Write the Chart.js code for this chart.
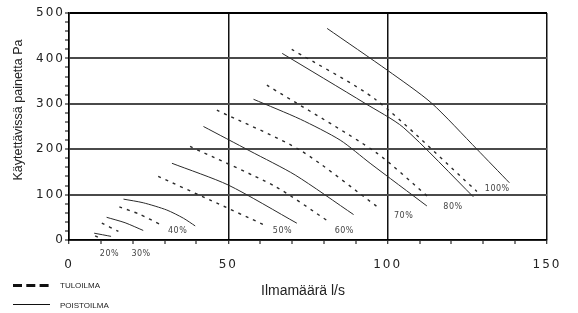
<!DOCTYPE html>
<html>
<head>
<meta charset="utf-8">
<script src="https://cdn.jsdelivr.net/npm/chart.js@4.4.1/dist/chart.umd.min.js"></script>
<style>
  body { margin: 0; background: #fff; }
  canvas { display: block; }
</style>
</head>
<body>
<canvas id="c" width="578" height="313"></canvas>
<script>
// damper positions
const percentLabels = ['20%', '30%', '40%', '50%', '60%', '70%', '80%', '100%']

// poistoilma (solid), flow l/s and pressure Pa
const poistoFlow = [
  [7.9, 13.2],
  [11.8, 17.6, 23.3],
  [17.1, 23.3, 30.7, 35.9, 39.6],
  [32.3, 50.0, 71.5],
  [42.2, 56.8, 71.0, 89.3],
  [57.9, 72.6, 85.1, 94.5, 112.3],
  [66.9, 92.9, 104.9, 126.9],
  [81.0, 100.1, 113.7, 128.0, 138.2]
]
const poistoPa = [
  [15, 8],
  [50, 38, 21],
  [90, 82, 66, 48, 31],
  [169, 121, 37],
  [250, 196, 143, 56],
  [310, 266, 220, 169, 75],
  [411, 301, 248, 95],
  [466, 373, 302, 200, 126]
]

// tuloilma (dashed)
const tuloFlow = [
  [8.2, 10.1],
  [10.3, 15.5],
  [15.8, 22.0, 29.0],
  [28.0, 44.3, 61.0],
  [38.0, 64.7, 81.4],
  [46.4, 72.5, 96.6],
  [62.1, 96.1, 112.7],
  [69.9, 96.1, 128.0]
]
const tuloPa = [
  [9, 3],
  [37, 19],
  [73, 57, 33],
  [140, 88, 34],
  [206, 118, 41],
  [286, 198, 74],
  [341, 194, 95],
  [420, 310, 107]
]

// where the % texts sit (in axis units)
const labelFlow = [12.7, 22.6, 34.1, 67.0, 86.4, 105.0, 120.5, 134.4]
const labelPa = [-30, -30, 19, 19, 20, 53, 73, 113]

const toPoints = (xs, ys) => xs.map((x, i) => ({x: x, y: ys[i]}))

const datasets = []
percentLabels.forEach((p, i) => {
  datasets.push({
    label: 'POISTOILMA ' + p,
    data: toPoints(poistoFlow[i], poistoPa[i]),
    borderColor: '#2a2a2a',
    borderWidth: 1,
    pointRadius: 0,
    tension: 0.25,
  })
  datasets.push({
    label: 'TULOILMA ' + p,
    data: toPoints(tuloFlow[i], tuloPa[i]),
    borderColor: '#2a2a2a',
    borderWidth: 1.4,
    borderDash: [3, 5],
    pointRadius: 0,
    tension: 0.25,
  })
})

//wide spaced tick numbers, only while the scales are drawn
const spacing = {
  id: 'spacing',
  beforeDraw: (chart) => { chart.ctx.letterSpacing = '2px' },
  beforeDatasetsDraw: (chart) => { chart.ctx.letterSpacing = '0px' },
}

//percent texts, axis titles and the little legend
const extras = {
  id: 'extras',
  afterDraw: (chart) => {
    const ctx = chart.ctx
    const xs = chart.scales.x
    const ys = chart.scales.y
    ctx.save()
    ctx.letterSpacing = '0.5px'
    ctx.fillStyle = '#444'
    ctx.font = '8px "DejaVu Sans"'
    ctx.textAlign = 'center'
    ctx.textBaseline = 'middle'
    percentLabels.forEach((p, i) => {
      ctx.fillText(p, xs.getPixelForValue(labelFlow[i]), ys.getPixelForValue(labelPa[i]))
    })
    ctx.letterSpacing = '0px'

    ctx.fillStyle = '#222'
    ctx.font = '14px "Liberation Sans"'
    ctx.fillText('Ilmamäärä l/s', 303, 291)

    ctx.save()
    ctx.translate(19, 110)
    ctx.rotate(-Math.PI / 2)
    ctx.font = '12.5px "Liberation Sans"'
    ctx.fillText('Käytettävissä painetta Pa', 0, 0)
    ctx.restore()

    ctx.strokeStyle = '#111'
    ctx.lineWidth = 3
    ctx.setLineDash([9, 4.3])
    ctx.beginPath()
    ctx.moveTo(13, 285.5)
    ctx.lineTo(49, 285.5)
    ctx.stroke()
    ctx.setLineDash([])
    ctx.lineWidth = 1
    ctx.beginPath()
    ctx.moveTo(13, 304.5)
    ctx.lineTo(50, 304.5)
    ctx.stroke()

    ctx.textAlign = 'left'
    ctx.font = '8px "Liberation Sans"'
    ctx.fillText('TULOILMA', 60, 285.5)
    ctx.fillText('POISTOILMA', 60, 305.5)
    ctx.restore()
  }
}

new Chart(document.getElementById('c'), {
  type: 'line',
  data: { datasets: datasets },
  plugins: [spacing, extras],
  options: {
    responsive: false,
    animation: false,
    devicePixelRatio: 1,
    layout: { padding: { top: 13, right: 31, bottom: 0, left: 0 } },
    plugins: {
      legend: { display: false },
      tooltip: { enabled: false },
    },
    scales: {
      x: {
        type: 'linear',
        min: 0,
        max: 150,
        afterFit: (scale) => { scale.height = 73 },
        ticks: {
          stepSize: 10,
          autoSkip: false,
          maxRotation: 0,
          padding: 14,
          color: '#222',
          font: { family: 'DejaVu Sans', size: 12 },
          callback: (v) => v % 50 === 0 ? v : '',
        },
        grid: {
          color: (c) => c.tick.value % 50 === 0 ? '#111' : 'rgba(0,0,0,0)',
          lineWidth: (c) => c.tick.value % 50 === 0 ? 1.5 : 0,
          tickLength: 4,
          tickColor: '#000',
          tickWidth: 1,
        },
        border: { color: '#000', width: 1.5 },
      },
      y: {
        min: 0,
        max: 500,
        afterFit: (scale) => { scale.width = 69 },
        ticks: {
          stepSize: 20,
          autoSkip: false,
          padding: 0,
          color: '#222',
          font: { family: 'DejaVu Sans', size: 12 },
          callback: (v) => v % 100 === 0 ? v : '',
        },
        grid: {
          color: (c) => c.tick.value % 100 !== 0 ? 'rgba(0,0,0,0)' : (c.tick.value === 500 ? '#000' : '#4a4a4a'),
          lineWidth: (c) => c.tick.value % 100 === 0 ? 2 : 0,
          tickLength: 4,
          tickColor: '#000',
          tickWidth: 1,
        },
        border: { color: '#000', width: 1.5 },
      }
    }
  }
})
</script>
</body>
</html>
